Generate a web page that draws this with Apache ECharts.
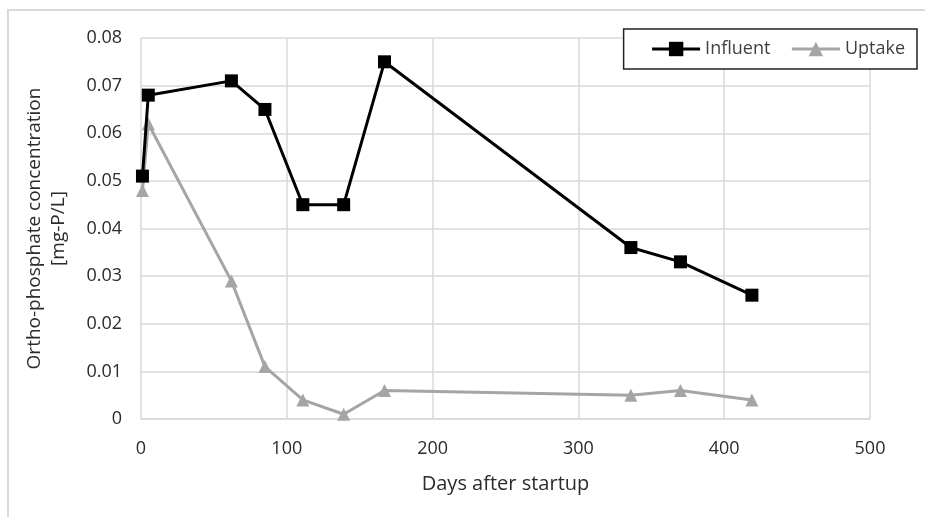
<!DOCTYPE html>
<html><head><meta charset="utf-8">
<script src="https://cdn.jsdelivr.net/npm/echarts@6/dist/echarts.min.js"></script>
<style>html,body{margin:0;padding:0;background:#fff}#c{width:925px;height:517px}</style>
</head><body><div id="c"></div>
<script>
const days = [1, 5, 62, 85, 111, 139, 167, 336, 370, 419];
const influent = [0.051, 0.068, 0.071, 0.065, 0.045, 0.045, 0.075, 0.036, 0.033, 0.026];
const uptake = [0.048, 0.062, 0.029, 0.011, 0.004, 0.001, 0.006, 0.005, 0.006, 0.004];
const xTicks = [0, 100, 200, 300, 400, 500];
const yTicks = [0, 0.01, 0.02, 0.03, 0.04, 0.05, 0.06, 0.07, 0.08];

const chart = echarts.init(document.getElementById('c'));
const font = "'Open Sans', 'Noto Sans', sans-serif";
const txt = '#2b2b2b';
chart.setOption({
  animation: false,
  textStyle: {fontFamily: font},
  graphic: [{type: 'rect', shape: {x: 8, y: 10, width: 930, height: 520}, style: {fill: 'none', stroke: '#d9d9d9', lineWidth: 2}}],
  grid: {left: 141, right: 55, top: 38, bottom: 98},
  legend: {
    right: 8, top: 29, padding: [11, 12, 11, 27], itemGap: 20,
    borderColor: '#222', borderWidth: 1.5, backgroundColor: '#fff',
    itemWidth: 48, itemHeight: 18,
    lineStyle: {width: 3},
    textStyle: {fontSize: 18, color: '#404040', fontFamily: font},
    data: ['Influent', 'Uptake']
  },
  xAxis: {
    type: 'value', min: xTicks[0], max: xTicks[xTicks.length - 1], interval: 100,
    name: 'Days after startup', nameLocation: 'middle', nameGap: 55,
    nameTextStyle: {fontSize: 20, color: txt, fontFamily: font},
    axisLine: {show: true, lineStyle: {color: '#d9d9d9', width: 1.5}},
    axisTick: {show: false},
    axisLabel: {fontSize: 18, color: txt, margin: 21, fontFamily: font},
    splitLine: {show: true, lineStyle: {color: '#d9d9d9', width: 1.5}}
  },
  yAxis: {
    type: 'value', min: yTicks[0], max: yTicks[yTicks.length - 1], interval: 0.01,
    name: 'Ortho-phosphate concentration\n[mg-P/L]', nameLocation: 'middle', nameGap: 70,
    nameTextStyle: {fontSize: 19, color: txt, lineHeight: 24, fontFamily: font},
    axisLine: {show: false}, axisTick: {show: false},
    axisLabel: {fontSize: 18, color: txt, margin: 19, fontFamily: font, formatter: v => v === 0 ? '0' : v.toFixed(2)},
    splitLine: {show: true, lineStyle: {color: '#d9d9d9', width: 1.5}}
  },
  series: [
    {name: 'Influent', type: 'line', data: days.map((d, i) => [d, influent[i]]),
     symbol: 'rect', symbolSize: 13, lineStyle: {color: '#000', width: 3}, itemStyle: {color: '#000'}, z: 3},
    {name: 'Uptake', type: 'line', data: days.map((d, i) => [d, uptake[i]]),
     symbol: 'triangle', symbolSize: 13, lineStyle: {color: '#a5a5a5', width: 3}, itemStyle: {color: '#a5a5a5'}, z: 2}
  ]
});
</script></body></html>
